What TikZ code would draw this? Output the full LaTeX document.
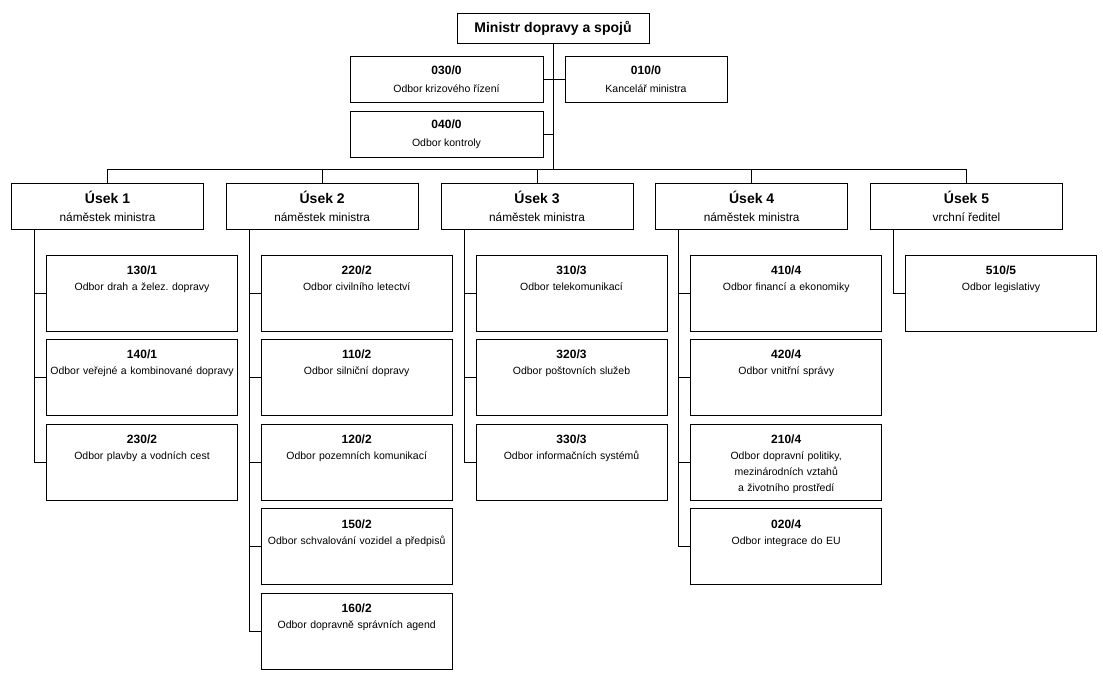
\documentclass[tikz,border=0pt]{standalone}
\usepackage{fontspec}
\setmainfont{Liberation Sans}
\frenchspacing

\newcommand{\kod}[1]{{\fontsize{12}{16}\selectfont\bfseries #1}}
\newcommand{\usek}[1]{{\fontsize{14}{18}\selectfont\bfseries #1}}

\tikzset{
  box/.style = {draw, inner sep=3pt, align=center},
  headbox/.style = {box, minimum width=192pt, minimum height=46pt, font=\fontsize{10.5}{18}\selectfont},
  usekbox/.style = {headbox, font=\fontsize{11.8}{18}\selectfont},
  odbor/.style = {box, text width=185pt, text height=16.3pt, text depth=53.7pt, font=\fontsize{10.5}{16}\selectfont},
}

\begin{document}
\begin{tikzpicture}[x=1pt, y=-1pt, line width=0.8pt]
\useasboundingbox (0,0) rectangle (1103,681);

% vedeni
\node[box, minimum width=192pt, minimum height=30pt, font=\fontsize{14}{16}\selectfont\bfseries] (ministr) at (553,28) {Ministr dopravy a spojů};
\node[headbox, minimum width=193pt] (o030) at (446.5,79) {\kod{030/0}\\ Odbor krizového řízení};
\node[headbox, minimum width=162pt] (o010) at (646,79) {\kod{010/0}\\ Kancelář ministra};
\node[headbox, minimum width=193pt] (o040) at (446.5,134) {\kod{040/0}\\ Odbor kontroly};
\coordinate (sbernice) at (553,170);

\draw (ministr.south) -- (sbernice);
\draw (o030.east) -- (o010.west);
\draw (o040.east) -- (o040.east -| ministr.south);

% useky
\node[usekbox] (u1) at (107.5,206) {\usek{Úsek 1}\\ náměstek ministra};
\node[usekbox] (u2) at (322.2,206) {\usek{Úsek 2}\\ náměstek ministra};
\node[usekbox] (u3) at (537,206) {\usek{Úsek 3}\\ náměstek ministra};
\node[usekbox] (u4) at (751.7,206) {\usek{Úsek 4}\\ náměstek ministra};
\node[usekbox] (u5) at (966.5,206) {\usek{Úsek 5}\\ vrchní ředitel};

\draw (u1.north) -- ++(0,-13) -| (u5.north);
\foreach \u in {u2,u3,u4}
  \draw (\u.north) -- ++(0,-13);

% odbory - usek 1
\node[odbor] (o130) at (142,293) {\kod{130/1}\\ Odbor drah a želez. dopravy};
\node[odbor] (o140) at (142,377.6) {\kod{140/1}\\ Odbor veřejné a kombinované dopravy};
\node[odbor] (o230) at (142,462.2) {\kod{230/2}\\ Odbor plavby a vodních cest};

% odbory - usek 2
\node[odbor] (o220) at (356.7,293) {\kod{220/2}\\ Odbor civilního letectví};
\node[odbor] (o110) at (356.7,377.6) {\kod{110/2}\\ Odbor silniční dopravy};
\node[odbor] (o120) at (356.7,462.2) {\kod{120/2}\\ Odbor pozemních komunikací};
\node[odbor] (o150) at (356.7,546.8) {\kod{150/2}\\ Odbor schvalování vozidel a předpisů};
\node[odbor] (o160) at (356.7,631.4) {\kod{160/2}\\ Odbor dopravně správních agend};

% odbory - usek 3
\node[odbor] (o310) at (571.5,293) {\kod{310/3}\\ Odbor telekomunikací};
\node[odbor] (o320) at (571.5,377.6) {\kod{320/3}\\ Odbor poštovních služeb};
\node[odbor] (o330) at (571.5,462.2) {\kod{330/3}\\ Odbor informačních systémů};

% odbory - usek 4
\node[odbor] (o410) at (786.2,293) {\kod{410/4}\\ Odbor financí a ekonomiky};
\node[odbor] (o420) at (786.2,377.6) {\kod{420/4}\\ Odbor vnitřní správy};
\node[odbor] (o210) at (786.2,462.2) {\kod{210/4}\\ Odbor dopravní politiky,\\ mezinárodních vztahů\\ a životního prostředí};
\node[odbor] (o020) at (786.2,546.8) {\kod{020/4}\\ Odbor integrace do EU};

% odbory - usek 5
\node[odbor] (o510) at (1001,293) {\kod{510/5}\\ Odbor legislativy};

% spojnice
\foreach \o in {o130,o140,o230}
  \draw (u1.south -| \o.west) ++(-11.7,0) |- (\o.west);
\foreach \o in {o220,o110,o120,o150,o160}
  \draw (u2.south -| \o.west) ++(-11.7,0) |- (\o.west);
\foreach \o in {o310,o320,o330}
  \draw (u3.south -| \o.west) ++(-11.7,0) |- (\o.west);
\foreach \o in {o410,o420,o210,o020}
  \draw (u4.south -| \o.west) ++(-11.7,0) |- (\o.west);
\draw (u5.south -| o510.west) ++(-11.7,0) |- (o510.west);
\end{tikzpicture}
\end{document}
